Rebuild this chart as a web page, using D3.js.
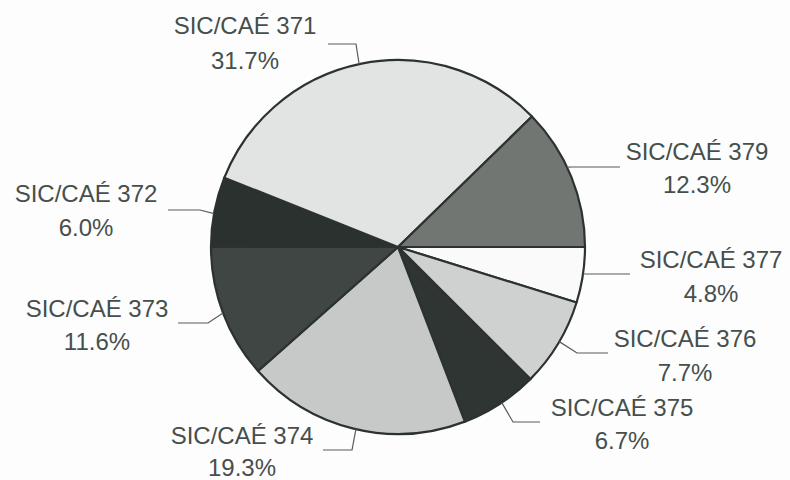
<!DOCTYPE html>
<html>
<head>
<meta charset="utf-8">
<script src="https://cdn.jsdelivr.net/npm/d3@7"></script>
<style>
  html, body { margin: 0; padding: 0; background: #fdfdfd; }
  svg { display: block; }
</style>
</head>
<body>
<svg id="chart" width="790" height="480"></svg>
<script>
// ---- data ----
const categories = ["SIC/CAÉ 377", "SIC/CAÉ 376", "SIC/CAÉ 375", "SIC/CAÉ 374",
                    "SIC/CAÉ 373", "SIC/CAÉ 372", "SIC/CAÉ 371", "SIC/CAÉ 379"];
const shares = [4.8, 7.7, 6.7, 19.3, 11.6, 6.0, 31.7, 12.3];
const shareLabels = ["4.8%", "7.7%", "6.7%", "19.3%", "11.6%", "6.0%", "31.7%", "12.3%"];

// ---- styling / layout ----
const fills = ["#fafafa", "#cfd1d0", "#2f3533", "#c6c9c8", "#3f4643", "#2b312f", "#e2e3e3", "#717673"];
// leader: touch angle (deg, clockwise from 12 o'clock), elbow, end; text center + baselines
const labelLayout = [
  { ang: 98.3,  elbow: [586, 274], end: [630, 274], tx: 711, ty: 268, gap: 34 },
  { ang: 120.4, elbow: [577, 353], end: [608, 353], tx: 685, ty: 347, gap: 34 },
  { ang: 146.3, elbow: [513, 422], end: [540, 422], tx: 622, ty: 416, gap: 33 },
  { ang: 193,   elbow: [352, 450], end: [323, 450], tx: 242, ty: 444, gap: 32 },
  { ang: 249.3, elbow: [208, 323], end: [178, 323], tx: 97,  ty: 317, gap: 33 },
  { ang: 280.3, elbow: [200, 210], end: [168, 210], tx: 86,  ty: 202, gap: 34 },
  { ang: 348,   elbow: [356, 44],  end: [328, 44],  tx: 245, ty: 34,  gap: 35 },
  { ang: 64.7,  elbow: [572, 167], end: [620, 167], tx: 697, ty: 160, gap: 33 }
];

const cx = 398, cy = 247, R = 187;
const svg = d3.select("#chart");
const g = svg.append("g").attr("transform", `translate(${cx},${cy})`);

const pie = d3.pie().sort(null).value(d => d)
  .startAngle(Math.PI / 2).endAngle(Math.PI / 2 + 2 * Math.PI);
const arcs = pie(shares);
const arc = d3.arc().innerRadius(0).outerRadius(R);

g.selectAll("path.slice").data(arcs).enter().append("path")
  .attr("class", "slice")
  .attr("d", arc)
  .attr("fill", (d, i) => fills[i])
  .attr("stroke", "#2c3230")
  .attr("stroke-width", 2.2)
  .attr("stroke-linejoin", "round");

// leader lines
const line = d3.line();
svg.selectAll("path.leader").data(labelLayout).enter().append("path")
  .attr("class", "leader")
  .attr("d", d => {
    const a = d.ang * Math.PI / 180;
    const s = [cx + R * Math.sin(a), cy - R * Math.cos(a)];
    return line([s, d.elbow, d.end]);
  })
  .attr("fill", "none")
  .attr("stroke", "#555c59")
  .attr("stroke-width", 1.2);

// labels
const lbl = svg.selectAll("g.lbl").data(categories).enter().append("g").attr("class", "lbl");
lbl.append("text")
  .attr("x", (d, i) => labelLayout[i].tx)
  .attr("y", (d, i) => labelLayout[i].ty)
  .text(d => d);
lbl.append("text")
  .attr("x", (d, i) => labelLayout[i].tx)
  .attr("y", (d, i) => labelLayout[i].ty + labelLayout[i].gap)
  .text((d, i) => shareLabels[i]);
lbl.selectAll("text")
  .attr("text-anchor", "middle")
  .attr("font-family", "'Liberation Sans', Arial, sans-serif")
  .attr("font-size", 24)
  .attr("fill", "#464f4c");
</script>
</body>
</html>
